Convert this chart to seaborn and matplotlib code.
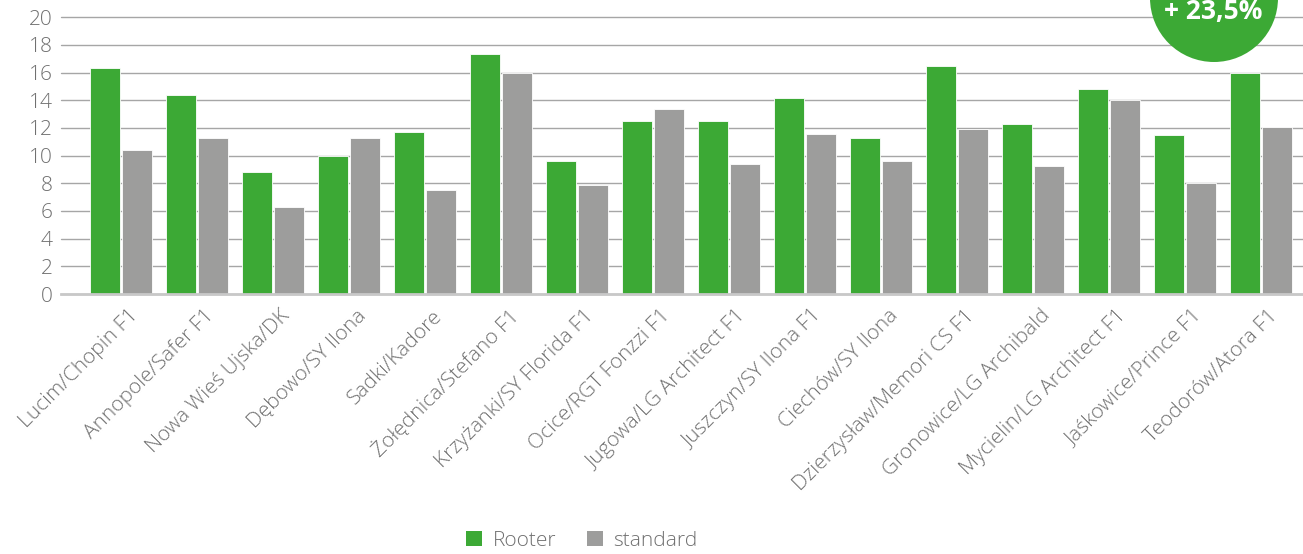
import pandas as pd
import numpy as np
import matplotlib.pyplot as plt
import matplotlib.transforms as mtransforms
from matplotlib.patches import Ellipse, Patch
import seaborn as sns

# Data
locations = ['Lucim/Chopin F1', 'Annopole/Safer F1', 'Nowa Wieś Ujska/DK', 'Dębowo/SY Ilona',
             'Sadki/Kadore', 'Żołędnica/Stefano F1', 'Krzyżanki/SY Florida F1', 'Ocice/RGT Fonzzi F1',
             'Jugowa/LG Architect F1', 'Juszczyn/SY Ilona F1', 'Ciechów/SY Ilona',
             'Dzierzysław/Memori CS F1', 'Gronowice/LG Archibald', 'Mycielin/LG Architect F1',
             'Jaśkowice/Prince F1', 'Teodorów/Atora F1']
rooter = [16.3, 14.4, 8.8, 10.0, 11.7, 17.35, 9.6, 12.5, 12.5, 14.2, 11.3, 16.5, 12.3, 14.8, 11.5, 16.0]
standard = [10.4, 11.3, 6.3, 11.3, 7.5, 16.0, 7.9, 13.4, 9.4, 11.55, 9.6, 11.9, 9.25, 14.0, 8.05, 12.1]
series = ['Rooter', 'standard']
badge_text = '+ 23,5%'

green = '#3ca935'
grey = '#9d9d9c'
text_grey = '#707070'

df = pd.DataFrame({
    'location': locations * 2,
    'value': rooter + standard,
    'series': [series[0]] * len(rooter) + [series[1]] * len(standard),
})

sns.set_style('white')
plt.rcParams['font.family'] = ['Open Sans', 'DejaVu Sans']

fig = plt.figure(figsize=(13.03, 5.54), dpi=100)
ax = fig.add_axes([61 / 1303, 1 - 294 / 554, 1 - 61 / 1303, (294 - 17.3) / 554])

sns.barplot(data=df, x='location', y='value', hue='series', hue_order=series,
            palette=[green, grey], width=0.84, gap=0.05, saturation=1,
            edgecolor='white', linewidth=0.6, legend=False, ax=ax, zorder=3)

ax.set_ylim(0, 20)
ax.set_xlim(-0.79, 15.55)
ax.set_yticks(np.arange(0, 21, 2))
ax.grid(axis='y', color='#a6a6a6', linewidth=1.0, zorder=0)
ax.grid(axis='x', visible=False)
for gl in ax.get_ygridlines():
    gl.set_clip_on(False)
for s in ['top', 'right', 'left']:
    ax.spines[s].set_visible(False)
ax.spines['bottom'].set_color('#c8c8c8')
ax.spines['bottom'].set_linewidth(2)
ax.spines['bottom'].set_zorder(4)
ax.set_xlabel('')
ax.set_ylabel('')

ax.tick_params(axis='y', length=0, pad=6, labelsize=15, labelcolor=text_grey)
ax.tick_params(axis='x', length=0, pad=0, labelsize=15, labelcolor=text_grey)
for lbl in ax.get_yticklabels():
    lbl.set_fontweight('light')

offset = mtransforms.ScaledTranslation(14 / 100, -19 / 100, fig.dpi_scale_trans)
ax.set_xticks(range(len(locations)))
ax.set_xticklabels(locations, rotation=45, ha='right', va='center',
                   rotation_mode='anchor', fontweight='light')
for lbl in ax.get_xticklabels():
    lbl.set_transform(lbl.get_transform() + offset)

# legend
handles = [Patch(facecolor=green, edgecolor='none'), Patch(facecolor=grey, edgecolor='none')]
fig.legend(handles, series, loc='center', bbox_to_anchor=(582 / 1303, 1 - 541 / 554),
           ncol=2, frameon=False, handlelength=0.75, handleheight=0.75, handletextpad=0.5,
           columnspacing=1.5, prop={'size': 15, 'weight': 'light'}, labelcolor=text_grey)

# badge circle in the top right corner
badge = Ellipse((1214 / 1303, 1 + 2 / 554), 128 / 1303, 128 / 554,
                transform=fig.transFigure, facecolor=green, edgecolor='none', zorder=10)
fig.patches.append(badge)
fig.text(1213 / 1303, 1 - 19 / 554, badge_text, ha='center', va='baseline',
         color='white', fontsize=19, fontweight='bold', zorder=11)

fig.savefig('out.png', dpi=100)
